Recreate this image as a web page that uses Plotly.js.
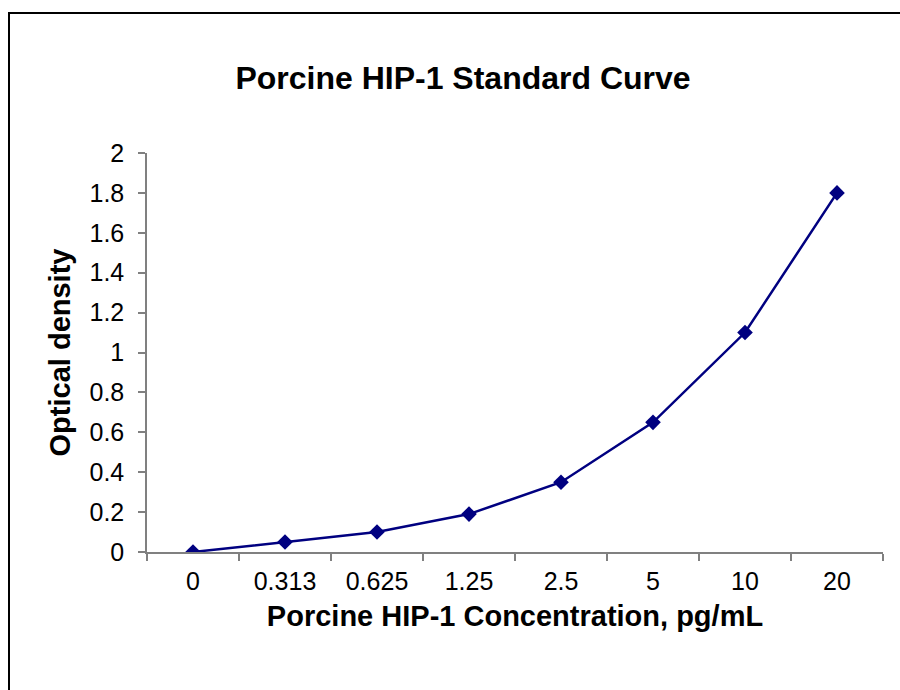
<!DOCTYPE html>
<html>
<head>
<meta charset="utf-8">
<script src="https://cdn.plot.ly/plotly-3.0.1.min.js"></script>
<style>
  html, body { margin: 0; padding: 0; background: #fff; overflow: hidden; }
  #wrap { position: relative; width: 900px; height: 690px; }
  #chart { position: absolute; left: 0; top: 0; width: 900px; height: 690px; }
  #frame { position: absolute; left: 8px; top: 12px; width: 1000px; height: 1000px;
           border-left: 2px solid #000; border-top: 2px solid #000; pointer-events: none; }
</style>
</head>
<body>
<div id="wrap">
  <div id="chart"></div>
  <div id="frame"></div>
</div>
<script>
const concentrations = ["0", "0.313", "0.625", "1.25", "2.5", "5", "10", "20"];
const opticalDensity = [0, 0.05, 0.1, 0.19, 0.35, 0.65, 1.1, 1.8];
const yTickValues = [0, 0.2, 0.4, 0.6, 0.8, 1, 1.2, 1.4, 1.6, 1.8, 2];
const yTickLabels = ["0", "0.2", "0.4", "0.6", "0.8", "1", "1.2", "1.4", "1.6", "1.8", "2"];

const FONT = '"Liberation Sans", Arial, Helvetica, sans-serif';
const NAVY = '#000080';

const trace = {
  x: concentrations,
  y: opticalDensity,
  type: 'scatter',
  mode: 'lines+markers',
  line: { color: NAVY, width: 2.5 },
  marker: { symbol: 'diamond', size: 12, color: NAVY },
  showlegend: false,
  hoverinfo: 'x+y'
};

const layout = {
  width: 900,
  height: 690,
  paper_bgcolor: '#ffffff',
  plot_bgcolor: '#ffffff',
  margin: { l: 147, r: 17, t: 153, b: 138 },
  font: { family: FONT, color: '#000' },
  title: {
    text: '<b>Porcine HIP-1 Standard Curve</b>',
    font: { family: FONT, size: 32, color: '#000' },
    x: 463 / 900, xref: 'container', xanchor: 'center',
    y: 1 - 78 / 690, yref: 'container', yanchor: 'middle'
  },
  xaxis: {
    type: 'category',
    categoryorder: 'array',
    categoryarray: concentrations,
    range: [-0.5, 7.5],
    showgrid: false,
    zeroline: false,
    showline: true,
    linecolor: '#808080',
    linewidth: 1.5,
    ticks: 'outside',
    tickson: 'boundaries',
    ticklen: 7,
    tickwidth: 1.5,
    tickcolor: '#808080',
    tickfont: { family: FONT, size: 25, color: '#000' },
    ticklabelstandoff: 6,
    title: {
      text: '<b>Porcine HIP-1 Concentration, pg/mL</b>',
      font: { family: FONT, size: 29, color: '#000' },
      standoff: 12
    },
    automargin: false
  },
  yaxis: {
    range: [0, 2],
    tickvals: yTickValues,
    ticktext: yTickLabels,
    showgrid: false,
    zeroline: false,
    showline: true,
    linecolor: '#808080',
    linewidth: 1.5,
    ticks: 'outside',
    ticklen: 7,
    tickwidth: 1.5,
    tickcolor: '#808080',
    tickfont: { family: FONT, size: 25, color: '#000' },
    ticklabelstandoff: 9,
    title: {
      text: '<b>Optical density</b>',
      font: { family: FONT, size: 29, color: '#000' },
      standoff: 10
    },
    automargin: false
  }
};

Plotly.newPlot('chart', [trace], layout, { displayModeBar: false, staticPlot: false });
</script>
</body>
</html>
